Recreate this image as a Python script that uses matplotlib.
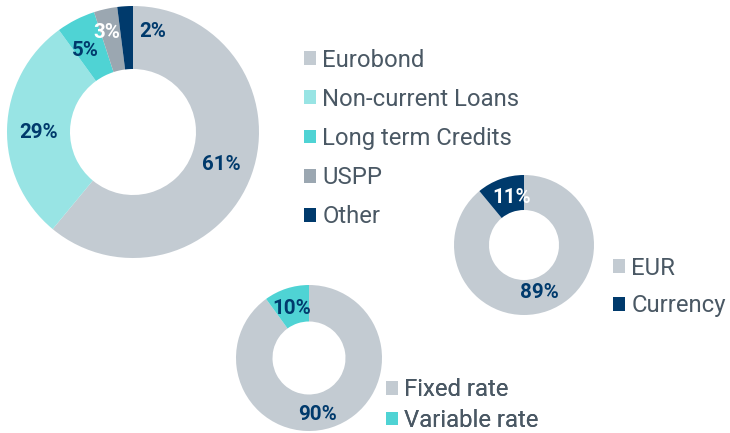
#!/usr/bin/env python3
# debt structure donuts: instrument mix, currency split, rate split
import numpy as np
import matplotlib
matplotlib.use("Agg")
import matplotlib.pyplot as plt

plt.rcParams["font.family"] = ["Roboto", "DejaVu Sans"]

# --- data ---
instr_labels = ["Eurobond", "Non-current Loans", "Long term Credits", "USPP", "Other"]
instr_values = [61, 29, 5, 3, 2]
curr_labels = ["EUR", "Currency"]
curr_values = [89, 11]
rate_labels = ["Fixed rate", "Variable rate"]
rate_values = [90, 10]

GRAY = "#c3cbd2"
LCYAN = "#98e4e4"
CYAN = "#4fd3d4"
SLATE = "#9ba7b1"
NAVY = "#003a6c"
TXT = "#4a5864"

W, H = 730, 433
fig = plt.figure(figsize=(W / 100, H / 100), dpi=100)
ax = fig.add_axes([0, 0, 1, 1])


def donut(values, colors, center, radius, label_colors, tweaks=None):
    # px coords from the top-left, flipped to data y
    cx, cy = center[0], H - center[1]
    wedges, _ = ax.pie(values, colors=colors, startangle=90, counterclock=False,
                       center=(cx, cy), radius=radius,
                       wedgeprops=dict(width=radius * 0.5, edgecolor="none"))
    tweaks = tweaks or {}
    for i, (w, v) in enumerate(zip(wedges, values)):
        ang = (w.theta1 + w.theta2) / 2
        r = radius * 0.75
        dang, rf = tweaks.get(i, (0, 1.0))
        ang += dang
        r *= rf
        x = cx + r * np.cos(np.radians(ang))
        y = cy + r * np.sin(np.radians(ang))
        ax.text(x, y, f"{v}%", ha="center", va="center", fontsize=14.8,
                fontweight="bold", color=label_colors[i])
    return wedges


def legend(handles, labels, left, mid_y, spacing):
    lg = ax.legend(handles, labels, loc="center left",
                   bbox_to_anchor=(left, H - mid_y), bbox_transform=ax.transData,
                   frameon=False, fontsize=17.2, handlelength=0.52, handleheight=0.52,
                   handletextpad=0.25, labelspacing=spacing, borderpad=0,
                   borderaxespad=0, labelcolor=TXT)
    ax.add_artist(lg)


w1 = donut(instr_values, [GRAY, LCYAN, CYAN, SLATE, NAVY], (133, 132), 126,
           [NAVY, NAVY, NAVY, "white", NAVY],
           tweaks={0: (-0.5, 1.0), 1: (1.8, 1.0), 2: (3, 1.0),
                   3: (2, 1.09), 4: (-15, 1.08)})
w2 = donut(curr_values, [GRAY, NAVY], (524, 245), 70, [NAVY, "white"],
           tweaks={0: (-1.5, 0.96), 1: (-5, 0.93)})
w3 = donut(rate_values, [GRAY, CYAN], (309, 358), 73, [NAVY, NAVY],
           tweaks={0: (-9, 1.04), 1: (1, 0.95)})

# pie() resets the limits, so fix them afterwards
ax.set_xlim(0, W)
ax.set_ylim(0, H)
ax.set_aspect("equal")
ax.axis("off")

legend(w1, instr_labels, 304, 138.5, 0.68)
legend(w2, curr_labels, 613, 287, 0.62)
legend(w3, rate_labels, 386, 405, 0.33)

fig.savefig("out.png", dpi=100)
